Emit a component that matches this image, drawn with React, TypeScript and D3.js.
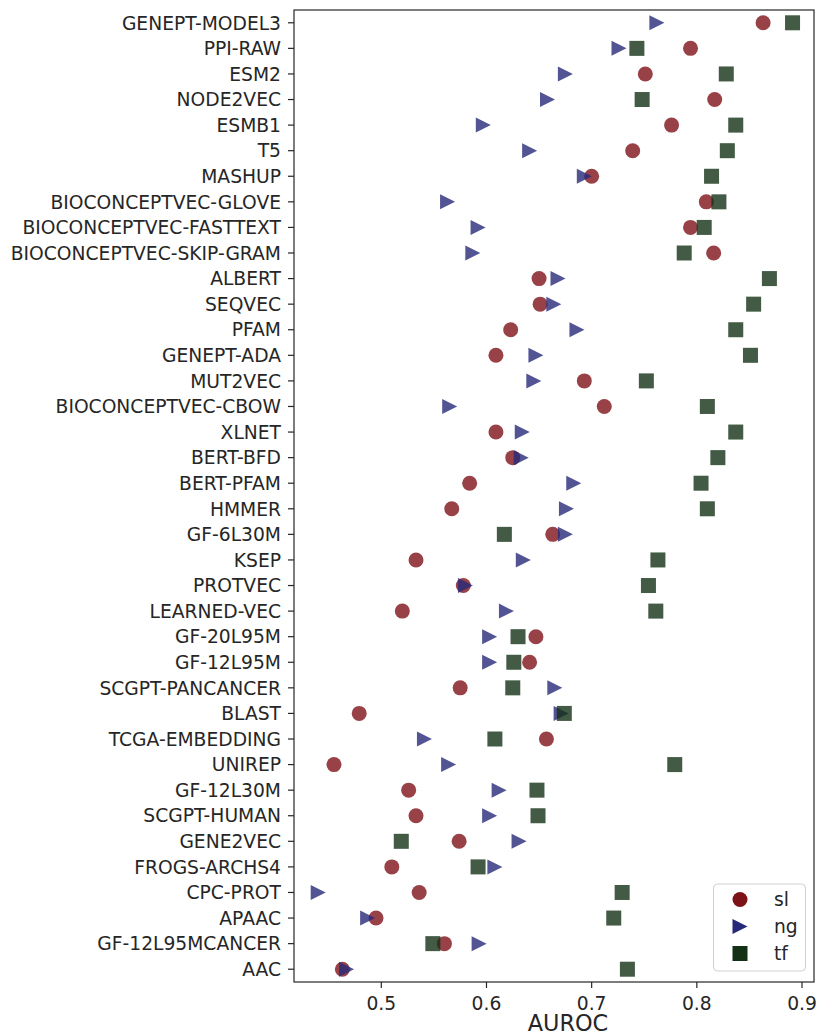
import React from "react";
import * as d3 from "d3";

const categories = [
  "GENEPT-MODEL3", "PPI-RAW", "ESM2", "NODE2VEC", "ESMB1", "T5", "MASHUP",
  "BIOCONCEPTVEC-GLOVE", "BIOCONCEPTVEC-FASTTEXT", "BIOCONCEPTVEC-SKIP-GRAM",
  "ALBERT", "SEQVEC", "PFAM", "GENEPT-ADA", "MUT2VEC", "BIOCONCEPTVEC-CBOW",
  "XLNET", "BERT-BFD", "BERT-PFAM", "HMMER", "GF-6L30M", "KSEP", "PROTVEC",
  "LEARNED-VEC", "GF-20L95M", "GF-12L95M", "SCGPT-PANCANCER", "BLAST",
  "TCGA-EMBEDDING", "UNIREP", "GF-12L30M", "SCGPT-HUMAN", "GENE2VEC",
  "FROGS-ARCHS4", "CPC-PROT", "APAAC", "GF-12L95MCANCER", "AAC",
];

const slValues = [
  0.863, 0.794, 0.751, 0.817, 0.776, 0.739, 0.700, 0.809, 0.794, 0.816,
  0.650, 0.651, 0.623, 0.609, 0.693, 0.712, 0.609, 0.625, 0.584, 0.567,
  0.663, 0.533, 0.578, 0.520, 0.647, 0.641, 0.575, 0.479, 0.657, 0.455,
  0.526, 0.533, 0.574, 0.510, 0.536, 0.495, 0.560, 0.463,
];

const ngValues = [
  0.762, 0.726, 0.675, 0.658, 0.597, 0.641, 0.693, 0.563, 0.592, 0.587,
  0.668, 0.664, 0.686, 0.647, 0.645, 0.565, 0.634, 0.633, 0.683, 0.676,
  0.675, 0.635, 0.580, 0.619, 0.603, 0.603, 0.665, 0.671, 0.541, 0.564,
  0.612, 0.603, 0.631, 0.608, 0.440, 0.487, 0.593, 0.467,
];

const tfValues = [
  0.891, 0.743, 0.828, 0.748, 0.837, 0.829, 0.814, 0.821, 0.807, 0.788,
  0.869, 0.854, 0.837, 0.851, 0.752, 0.810, 0.837, 0.820, 0.804, 0.810,
  0.617, 0.763, 0.754, 0.761, 0.630, 0.626, 0.625, 0.674, 0.608, 0.779,
  0.648, 0.649, 0.519, 0.592, 0.729, 0.721, 0.549, 0.734,
];

const xTicks = [0.5, 0.6, 0.7, 0.8, 0.9];
const seriesNames = ["sl", "ng", "tf"];
const seriesColors = ["#7e1219", "#272979", "#143116"];

const W = 817;
const H = 1033;
const left = 294;
const right = 814;
const top = 10;
const bottom = 982;
const MS = 15; // marker size
const TEXT = "#262626";
const FONT = "'DejaVu Sans', sans-serif";
const FS = 18.7;

function Marker({ kind, x, y, color, opacity }: { kind: number; x: number; y: number; color: string; opacity: number }) {
  const h = MS / 2;
  if (kind === 0) return <circle cx={x} cy={y} r={h} fill={color} fillOpacity={opacity} />;
  if (kind === 1)
    return (
      <path
        transform={`translate(${x},${y})`}
        d={`M${h},0L${-h},${-h}L${-h},${h}Z`}
        fill={color}
        fillOpacity={opacity}
      />
    );
  return <rect x={x - h} y={y - h} width={MS} height={MS} fill={color} fillOpacity={opacity} />;
}

export default function App() {
  const x = d3.scaleLinear().domain([0.417, 0.9114]).range([left, right]);
  const y = d3.scalePoint<string>().domain(categories).range([top, bottom]).padding(0.5);
  const series = [slValues, ngValues, tfValues];

  const legX = 713.5;
  const legY = 884;
  const legW = 92;
  const legH = 87;

  return (
    <svg
      width={W}
      height={H}
      style={{ position: "absolute", left: 0, top: 0, background: "#fff" }}
      fontFamily={FONT}
    >
      {/* y ticks */}
      {categories.map((c) => (
        <g key={c} transform={`translate(0,${y(c)})`}>
          <line x1={left - 6} x2={left} stroke={TEXT} strokeWidth={1.2} />
          <text x={left - 13} dy="0.36em" textAnchor="end" fontSize={FS} fill={TEXT}>
            {c}
          </text>
        </g>
      ))}
      {/* x ticks */}
      {xTicks.map((t) => (
        <g key={t} transform={`translate(${x(t)},0)`}>
          <line y1={bottom} y2={bottom + 6} stroke={TEXT} strokeWidth={1.2} />
          <text y={1009.5} textAnchor="middle" fontSize={FS} fill={TEXT}>
            {d3.format(".1f")(t)}
          </text>
        </g>
      ))}
      <text x={568} y={1031} textAnchor="middle" fontSize={22.4} fill={TEXT}>
        AUROC
      </text>

      {/* markers */}
      {series.map((vals, si) => (
        <g key={si}>
          {vals.map((v, i) => (
            <Marker key={i} kind={si} x={x(v)} y={y(categories[i]) as number} color={seriesColors[si]} opacity={0.8} />
          ))}
        </g>
      ))}

      {/* frame */}
      <rect x={left} y={top} width={right - left} height={bottom - top} fill="none" stroke={TEXT} strokeWidth={1.2} />

      {/* legend */}
      <rect x={legX} y={legY} width={legW} height={legH} rx={4} fill="#fff" fillOpacity={0.8} stroke="#d0d0d0" strokeWidth={1} />
      {seriesNames.map((n, i) => {
        const cy = legY + 15.5 + i * 27;
        return (
          <g key={n}>
            <Marker kind={i} x={740} y={cy} color={seriesColors[i]} opacity={1} />
            <text x={774} y={cy} dy="0.36em" fontSize={FS} fill={TEXT}>
              {n}
            </text>
          </g>
        );
      })}
    </svg>
  );
}
